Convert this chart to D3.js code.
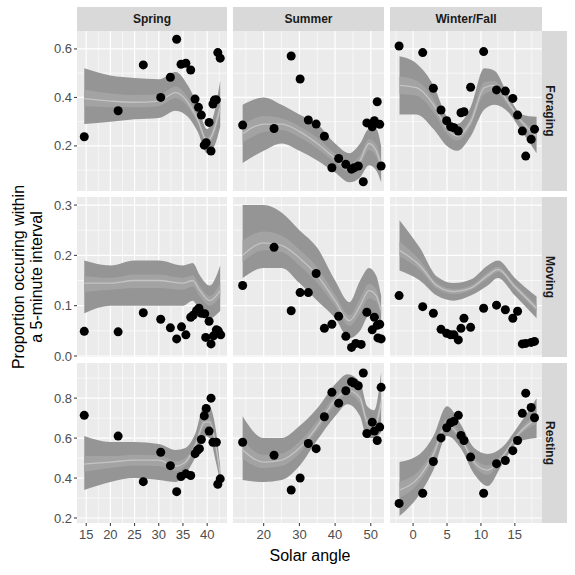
<!DOCTYPE html>
<html><head><meta charset="utf-8">
<script src="https://cdn.jsdelivr.net/npm/d3@7"></script>
<style>body{margin:0;background:#fff}</style></head>
<body><svg id="c" width="575" height="575"></svg>
<script>
const seasons = ["Spring","Summer","Winter/Fall"];
const behaviours = ["Foraging","Moving","Resting"];
const xTicks = [[15,20,25,30,35,40],[20,30,40,50],[0,5,10,15]];
const yTicks = [[0.2,0.4,0.6],[0.0,0.1,0.2,0.3],[0.2,0.4,0.6,0.8]];
const yTickLabels = [["0.2","0.4","0.6"],["0.0","0.1","0.2","0.3"],["0.2","0.4","0.6","0.8"]];
const xDomains = [[13.1,44.1],[11.4,53.7],[-3.4,19]];
const yDomains = [[0.014,0.674],[-0.002,0.316],[0.175,0.976]];

// points [x,y]
const springForaging = [[14.6,0.238],[21.6,0.345],[26.8,0.534],[30.4,0.40],[32.4,0.483],[33.7,0.64],[34.6,0.537],[35.6,0.541],[36.6,0.513],[37.5,0.393],[38.2,0.359],[38.8,0.327],[39.4,0.203],[39.8,0.213],[40.4,0.297],[40.8,0.179],[41.2,0.373],[41.5,0.389],[41.9,0.39],[42.2,0.585],[42.7,0.562]];
const summerForaging = [[14.1,0.286],[22.9,0.272],[27.7,0.571],[30.2,0.476],[32.5,0.307],[34.7,0.29],[37.0,0.24],[39.1,0.11],[41.0,0.148],[43.0,0.124],[44.6,0.104],[45.3,0.11],[46.5,0.117],[47.9,0.052],[48.9,0.295],[50.4,0.279],[51.0,0.304],[51.8,0.382],[52.5,0.289],[52.9,0.117]];
const winterForaging = [[-2.06,0.612],[1.42,0.585],[2.99,0.438],[4.12,0.348],[4.95,0.304],[5.54,0.279],[6.03,0.275],[6.67,0.261],[7.06,0.337],[7.5,0.341],[8.48,0.442],[10.4,0.589],[12.3,0.431],[13.6,0.426],[14.7,0.396],[15.4,0.327],[16.1,0.261],[16.6,0.158],[17.4,0.227],[17.9,0.269]];
const springMoving = [[14.6,0.049],[21.6,0.048],[26.8,0.086],[30.4,0.073],[32.4,0.056],[33.7,0.034],[34.7,0.058],[35.6,0.042],[36.6,0.077],[37.1,0.081],[37.8,0.09],[38.3,0.095],[38.8,0.085],[39.5,0.084],[39.7,0.037],[40.4,0.069],[40.8,0.024],[41.3,0.04],[41.9,0.052],[42.3,0.05],[42.8,0.042]];
const summerMoving = [[14.1,0.14],[22.9,0.216],[27.7,0.09],[30.2,0.126],[32.5,0.126],[34.7,0.164],[37.0,0.055],[39.1,0.063],[41.0,0.079],[43.0,0.039],[44.6,0.017],[45.8,0.025],[47.3,0.023],[48.9,0.087],[50.4,0.052],[51.0,0.077],[51.8,0.061],[52.5,0.063],[52.9,0.034],[52.0,0.036]];
const winterMoving = [[-2.06,0.12],[1.42,0.098],[2.99,0.085],[4.12,0.053],[4.95,0.045],[5.54,0.042],[6.03,0.042],[6.67,0.032],[7.06,0.055],[7.5,0.075],[8.48,0.057],[10.4,0.095],[12.3,0.101],[13.6,0.092],[14.7,0.075],[15.4,0.089],[16.1,0.024],[16.6,0.025],[17.4,0.027],[17.9,0.029]];
const springResting = [[14.6,0.714],[21.6,0.61],[26.8,0.382],[30.4,0.529],[32.4,0.462],[33.7,0.332],[34.6,0.408],[35.6,0.421],[36.6,0.413],[37.5,0.522],[38.0,0.539],[38.4,0.547],[38.8,0.593],[39.4,0.711],[39.8,0.748],[40.4,0.635],[40.8,0.8],[41.2,0.579],[41.9,0.579],[42.2,0.369],[42.7,0.396]];
const summerResting = [[14.1,0.579],[22.9,0.514],[27.7,0.34],[30.2,0.40],[32.5,0.573],[34.7,0.547],[37.0,0.707],[39.1,0.829],[41.0,0.775],[43.0,0.837],[44.6,0.882],[45.3,0.876],[46.5,0.862],[47.9,0.926],[48.9,0.623],[50.4,0.68],[51.0,0.635],[51.8,0.588],[52.5,0.655],[52.9,0.854]];
const winterResting = [[-2.06,0.273],[1.42,0.324],[2.99,0.483],[4.12,0.601],[4.95,0.652],[5.54,0.677],[6.03,0.685],[6.67,0.714],[7.06,0.613],[7.5,0.588],[8.48,0.505],[10.4,0.324],[12.3,0.472],[13.6,0.488],[14.7,0.537],[15.4,0.588],[16.1,0.724],[16.6,0.825],[17.4,0.753],[17.9,0.702]];

// smooth knots [x, lower, fit, upper]
const springForagingFit = [[14.6,0.29,0.395,0.52],[20,0.30,0.385,0.49],[25,0.31,0.38,0.48],[30,0.315,0.385,0.475],[33.5,0.345,0.42,0.505],[36,0.32,0.38,0.45],[38,0.26,0.31,0.37],[40,0.17,0.22,0.27],[41.5,0.2,0.27,0.34],[42.7,0.28,0.36,0.47]];
const summerForagingFit = [[14.1,0.13,0.25,0.37],[20,0.18,0.29,0.40],[25,0.21,0.29,0.37],[30,0.18,0.26,0.33],[35,0.14,0.21,0.29],[40,0.09,0.15,0.21],[44,0.05,0.11,0.17],[47,0.07,0.14,0.21],[49.5,0.12,0.21,0.27],[51.5,0.10,0.18,0.27],[52.9,0.05,0.12,0.2]];
const winterForagingFit = [[-2,0.33,0.45,0.57],[0.5,0.33,0.44,0.54],[3,0.27,0.37,0.45],[5,0.2,0.27,0.32],[6.5,0.18,0.24,0.29],[8.5,0.24,0.3,0.36],[10.5,0.35,0.44,0.52],[12,0.37,0.45,0.51],[14,0.34,0.38,0.41],[16,0.26,0.3,0.33],[18.2,0.17,0.24,0.32]];
const springMovingFit = [[14.6,0.085,0.145,0.19],[20,0.1,0.145,0.18],[25,0.1,0.15,0.19],[30,0.1,0.15,0.19],[35,0.1,0.145,0.18],[37,0.11,0.15,0.185],[38.5,0.09,0.13,0.16],[40.5,0.075,0.11,0.14],[42.7,0.09,0.13,0.18]];
const summerMovingFit = [[14.1,0.155,0.2,0.3],[20,0.175,0.225,0.3],[25,0.175,0.22,0.285],[30,0.145,0.195,0.25],[35,0.11,0.16,0.215],[40,0.075,0.11,0.15],[44,0.035,0.07,0.107],[47,0.05,0.1,0.15],[49.5,0.08,0.13,0.175],[51.5,0.08,0.12,0.16],[52.9,0.06,0.09,0.12]];
const winterMovingFit = [[-2,0.17,0.21,0.27],[1,0.15,0.18,0.215],[3.5,0.12,0.14,0.158],[6,0.11,0.128,0.145],[8.5,0.12,0.135,0.152],[11,0.14,0.16,0.18],[12.5,0.155,0.172,0.19],[15,0.12,0.138,0.155],[18.2,0.075,0.095,0.118]];
const springRestingFit = [[14.6,0.34,0.47,0.61],[20,0.38,0.48,0.58],[25,0.40,0.49,0.58],[30,0.39,0.49,0.57],[33.5,0.38,0.46,0.54],[35.5,0.42,0.48,0.55],[37.5,0.5,0.56,0.62],[39.5,0.61,0.68,0.77],[40.5,0.6,0.68,0.76],[41.8,0.48,0.56,0.64],[42.7,0.38,0.42,0.46]];
const summerRestingFit = [[14.1,0.39,0.54,0.71],[20,0.38,0.48,0.6],[25,0.39,0.49,0.6],[30,0.46,0.55,0.66],[35,0.59,0.66,0.75],[40,0.71,0.79,0.87],[43.5,0.77,0.84,0.92],[47,0.71,0.8,0.88],[49,0.6,0.68,0.76],[51,0.6,0.66,0.74],[52.9,0.63,0.78,0.93]];
const winterRestingFit = [[-2,0.21,0.34,0.48],[1,0.32,0.41,0.52],[3,0.44,0.52,0.61],[5,0.61,0.67,0.76],[7,0.55,0.6,0.67],[9,0.42,0.48,0.55],[11,0.36,0.44,0.52],[13,0.46,0.5,0.55],[15.5,0.58,0.62,0.66],[18.2,0.6,0.7,0.8]];

const points = [[springForaging,summerForaging,winterForaging],[springMoving,summerMoving,winterMoving],[springResting,summerResting,winterResting]];
const fits = [[springForagingFit,summerForagingFit,winterForagingFit],[springMovingFit,summerMovingFit,winterMovingFit],[springRestingFit,summerRestingFit,winterRestingFit]];

const svg = d3.select("#c");
const colX = [[77,227],[233,384],[390,542]];
const rowY = [[31,191],[197,357],[363,523]];

// strips
seasons.forEach((s,j)=>{
  svg.append("rect").attr("x",colX[j][0]).attr("y",7).attr("width",colX[j][1]-colX[j][0]).attr("height",24).attr("fill","#D9D9D9");
  svg.append("text").attr("x",(colX[j][0]+colX[j][1])/2).attr("y",23).attr("text-anchor","middle")
    .attr("font-family","Arial, Liberation Sans, sans-serif").attr("font-weight","bold").attr("font-size",12).attr("fill","#1A1A1A").text(s);
});
behaviours.forEach((b,i)=>{
  svg.append("rect").attr("x",542).attr("y",rowY[i][0]).attr("width",25).attr("height",rowY[i][1]-rowY[i][0]).attr("fill","#D9D9D9");
  const cy=(rowY[i][0]+rowY[i][1])/2;
  svg.append("text").attr("transform",`translate(550,${cy}) rotate(90)`).attr("text-anchor","middle").attr("dy","0.35em")
    .attr("font-family","Arial, Liberation Sans, sans-serif").attr("font-weight","bold").attr("font-size",12).attr("fill","#1A1A1A").text(b);
});

const font="Arial, Liberation Sans, sans-serif";
for(let i=0;i<3;i++){
  for(let j=0;j<3;j++){
    const x=d3.scaleLinear().domain(xDomains[j]).range(colX[j]);
    const y=d3.scaleLinear().domain(yDomains[i]).range([rowY[i][1],rowY[i][0]]);
    const g=svg.append("g");
    g.append("rect").attr("x",colX[j][0]).attr("y",rowY[i][0]).attr("width",colX[j][1]-colX[j][0]).attr("height",rowY[i][1]-rowY[i][0]).attr("fill","#EBEBEB");
    const xt=xTicks[j], st=xt[1]-xt[0];
    const xMinor=[]; for(let v=xt[0]-st/2; v<=xt[xt.length-1]+st/2+1e-9; v+=st) xMinor.push(v);
    const yt=yTicks[i], sy=yt[1]-yt[0];
    const yMinor=[]; for(let v=yt[0]-sy/2; v<=yt[yt.length-1]+sy/2+1e-9; v+=sy) yMinor.push(v);
    const inX=v=>v>=xDomains[j][0]&&v<=xDomains[j][1], inY=v=>v>=yDomains[i][0]&&v<=yDomains[i][1];
    xMinor.filter(inX).forEach(v=>g.append("line").attr("x1",x(v)).attr("x2",x(v)).attr("y1",rowY[i][0]).attr("y2",rowY[i][1]).attr("stroke","#fff").attr("stroke-width",0.6));
    yMinor.filter(inY).forEach(v=>g.append("line").attr("y1",y(v)).attr("y2",y(v)).attr("x1",colX[j][0]).attr("x2",colX[j][1]).attr("stroke","#fff").attr("stroke-width",0.6));
    xt.forEach(v=>g.append("line").attr("x1",x(v)).attr("x2",x(v)).attr("y1",rowY[i][0]).attr("y2",rowY[i][1]).attr("stroke","#fff").attr("stroke-width",1.2));
    yt.forEach(v=>g.append("line").attr("y1",y(v)).attr("y2",y(v)).attr("x1",colX[j][0]).attr("x2",colX[j][1]).attr("stroke","#fff").attr("stroke-width",1.2));
    const f=fits[i][j];
    const area=d3.area().curve(d3.curveMonotoneX).x(d=>x(d[0])).y0(d=>y(d[1])).y1(d=>y(d[3]));
    g.append("path").attr("d",area(f)).attr("fill","#959595");
    const inner=d3.area().curve(d3.curveMonotoneX).x(d=>x(d[0])).y0(d=>y(d[2]-(d[2]-d[1])*0.3)).y1(d=>y(d[2]+(d[3]-d[2])*0.3));
    g.append("path").attr("d",inner(f)).attr("fill","#A3A3A3");
    const line=d3.line().curve(d3.curveMonotoneX).x(d=>x(d[0])).y(d=>y(d[2]));
    g.append("path").attr("d",line(f)).attr("fill","none").attr("stroke","#C4C4C4").attr("stroke-width",1.3);
    g.selectAll("circle").data(points[i][j]).enter().append("circle").attr("cx",d=>x(d[0])).attr("cy",d=>y(d[1])).attr("r",4.5).attr("fill","#000");
    if(j===0){
      yt.forEach((v,k)=>{
        g.append("line").attr("x1",colX[0][0]-3).attr("x2",colX[0][0]).attr("y1",y(v)).attr("y2",y(v)).attr("stroke","#333");
        g.append("text").attr("x",colX[0][0]-5).attr("y",y(v)).attr("dy","0.35em").attr("text-anchor","end").attr("font-family",font).attr("font-size",13).attr("fill","#4D4D4D").text(yTickLabels[i][k]);
      });
    }
    if(i===2){
      xt.forEach(v=>{
        g.append("line").attr("x1",x(v)).attr("x2",x(v)).attr("y1",rowY[2][1]).attr("y2",rowY[2][1]+3).attr("stroke","#333");
        g.append("text").attr("x",x(v)).attr("y",rowY[2][1]+16).attr("text-anchor","middle").attr("font-family",font).attr("font-size",13).attr("fill","#4D4D4D").text(v);
      });
    }
  }
}
svg.append("text").attr("x",310).attr("y",561).attr("text-anchor","middle").attr("font-family",font).attr("font-size",16).attr("fill","#000").text("Solar angle");
const yt=svg.append("text").attr("transform","translate(24,277) rotate(-90)").attr("text-anchor","middle").attr("font-family",font).attr("font-size",16).attr("fill","#000");
yt.append("tspan").attr("x",0).attr("dy",0).text("Proportion occuring within");
yt.append("tspan").attr("x",0).attr("dy",18).text("a 5-minute interval");
</script></body></html>
